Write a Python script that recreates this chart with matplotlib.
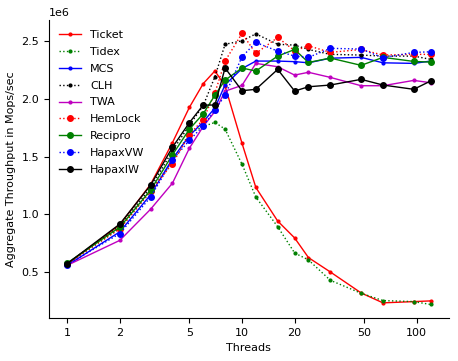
import matplotlib
matplotlib.use("Agg")
import matplotlib.pyplot as plt
from matplotlib.ticker import FixedLocator, NullLocator, FixedFormatter

# thread counts on the x axis
threads = [1, 2, 3, 4, 5, 6, 7, 8, 10, 12, 16, 20, 24, 32, 48, 64, 96, 120]

# throughput per lock (ops/sec)
ticket = [0.57, 0.91, 1.26, 1.62, 1.925, 2.13, 2.24, 2.11, 1.615, 1.233, 0.943, 0.797, 0.627, 0.503, 0.322, 0.236, 0.247, 0.253]
tidex = [0.575, 0.88, 1.20, 1.46, 1.70, 1.76, 1.795, 1.737, 1.434, 1.15, 0.894, 0.667, 0.607, 0.431, 0.319, 0.256, 0.247, 0.222]
mcs = [0.56, 0.85, 1.17, 1.48, 1.68, 1.80, 1.92, 2.12, 2.26, 2.325, 2.325, 2.32, 2.31, 2.35, 2.357, 2.31, 2.305, 2.325]
clh = [0.575, 0.90, 1.23, 1.55, 1.77, 1.94, 2.19, 2.47, 2.50, 2.56, 2.47, 2.463, 2.425, 2.383, 2.377, 2.368, 2.368, 2.34]
twa = [0.56, 0.776, 1.045, 1.27, 1.572, 1.76, 1.89, 2.065, 2.115, 2.305, 2.276, 2.204, 2.228, 2.184, 2.112, 2.112, 2.158, 2.138]
hemlock = [0.575, 0.875, 1.20, 1.44, 1.69, 1.82, 2.05, 2.325, 2.564, 2.391, 2.529, 2.414, 2.457, 2.40, 2.425, 2.377, 2.383, 2.383]
recipro = [0.58, 0.89, 1.21, 1.515, 1.736, 1.87, 2.03, 2.16, 2.265, 2.239, 2.368, 2.425, 2.313, 2.351, 2.288, 2.357, 2.322, 2.316]
hapaxvw = [0.565, 0.835, 1.15, 1.47, 1.64, 1.765, 1.90, 2.03, 2.362, 2.486, 2.411, 2.368, 2.357, 2.435, 2.429, 2.354, 2.40, 2.405]
hapaxiw = [0.575, 0.917, 1.253, 1.58, 1.793, 1.945, 1.945, 2.265, 2.069, 2.081, 2.253, 2.066, 2.103, 2.118, 2.167, 2.118, 2.081, 2.153]

xticks = [1, 2, 5, 10, 20, 50, 100]

series = [
    ('Ticket', ticket, 'r', '-', 2),
    ('Tidex', tidex, 'g', ':', 2),
    ('MCS', mcs, 'b', '-', 2),
    ('CLH', clh, 'k', ':', 2),
    ('TWA', twa, 'm', '-', 2),
    ('HemLock', hemlock, 'r', ':', 4),
    ('Recipro', recipro, 'g', '-', 4),
    ('HapaxVW', hapaxvw, 'b', ':', 4),
    ('HapaxIW', hapaxiw, 'k', '-', 4),
]

fig = plt.figure(figsize=(4.58, 3.61), dpi=100)
ax = fig.add_axes([0.107, 0.119, 0.873, 0.826])

for name, vals, color, ls, ms in series:
    ax.plot(threads, [v * 1e6 for v in vals], color=color, linestyle=ls,
            marker='o', markersize=ms, linewidth=1, label=name)

ax.set_xscale('log')
ax.xaxis.set_major_locator(FixedLocator(xticks))
ax.xaxis.set_major_formatter(FixedFormatter([str(t) for t in xticks]))
ax.xaxis.set_minor_locator(NullLocator())
ax.tick_params(labelsize=8)
ax.yaxis.get_offset_text().set_fontsize(8)

ax.spines['top'].set_visible(False)
ax.spines['right'].set_visible(False)

ax.set_xlabel('Threads', fontsize=8)
ax.set_ylabel('Aggregate Throughput in Mops/sec', fontsize=8)
ax.legend(loc='upper left', frameon=False, fontsize=8, labelspacing=0.62)

plt.savefig('out.png', dpi=100)
